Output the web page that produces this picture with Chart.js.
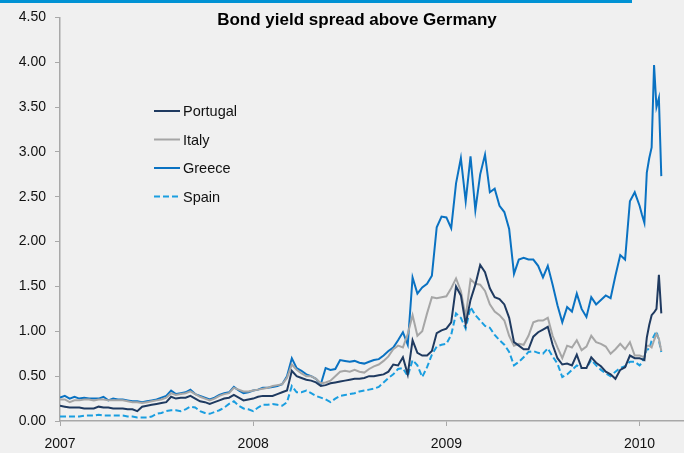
<!DOCTYPE html>
<html>
<head>
<meta charset="utf-8">
<script src="https://cdn.jsdelivr.net/npm/chart.js@4/dist/chart.umd.min.js"></script>
<style>
  html, body { margin: 0; padding: 0; background: #f0f0f0; }
  #wrap { position: relative; width: 684px; height: 453px; }
  #topbar { position: absolute; left: 0; top: 0; width: 632px; height: 3px; background: #0092d4; }
</style>
</head>
<body>
<div id="wrap">
  <canvas id="chart" width="684" height="453"></canvas>
  <div id="topbar"></div>
</div>
<script>
const dates = [
  2007.000, 2007.025, 2007.050, 2007.075, 2007.100, 2007.125, 2007.150, 2007.175, 2007.200, 2007.225,
  2007.250, 2007.275, 2007.300, 2007.325, 2007.350, 2007.375, 2007.400, 2007.425, 2007.450, 2007.475,
  2007.500, 2007.525, 2007.550, 2007.575, 2007.600, 2007.625, 2007.650, 2007.675, 2007.700, 2007.725,
  2007.750, 2007.775, 2007.800, 2007.825, 2007.850, 2007.875, 2007.900, 2007.925, 2007.950, 2007.975,
  2008.000, 2008.025, 2008.050, 2008.075, 2008.100, 2008.125, 2008.150, 2008.175, 2008.200, 2008.225,
  2008.250, 2008.275, 2008.300, 2008.325, 2008.350, 2008.375, 2008.400, 2008.425, 2008.450, 2008.475,
  2008.500, 2008.525, 2008.550, 2008.575, 2008.600, 2008.625, 2008.650, 2008.675, 2008.700, 2008.725,
  2008.750, 2008.775, 2008.800, 2008.825, 2008.850, 2008.875, 2008.900, 2008.925, 2008.950, 2008.975,
  2009.000, 2009.025, 2009.050, 2009.075, 2009.100, 2009.125, 2009.150, 2009.175, 2009.200, 2009.225,
  2009.250, 2009.275, 2009.300, 2009.325, 2009.350, 2009.375, 2009.400, 2009.425, 2009.450, 2009.475,
  2009.500, 2009.525, 2009.550, 2009.575, 2009.600, 2009.625, 2009.650, 2009.675, 2009.700, 2009.725,
  2009.750, 2009.775, 2009.800, 2009.825, 2009.850, 2009.875, 2009.900, 2009.925, 2009.950, 2009.975,
  2010.000, 2010.0125, 2010.025, 2010.0375, 2010.050, 2010.0625, 2010.075, 2010.0875, 2010.100, 2010.1125
];

const portugal = [
  0.17, 0.16, 0.15, 0.15, 0.15, 0.14, 0.14, 0.14, 0.16, 0.15,
  0.15, 0.14, 0.14, 0.14, 0.13, 0.13, 0.11, 0.16, 0.17, 0.18,
  0.19, 0.20, 0.21, 0.27, 0.25, 0.26, 0.26, 0.28, 0.25, 0.22,
  0.21, 0.19, 0.21, 0.23, 0.25, 0.26, 0.29, 0.26, 0.23, 0.24,
  0.25, 0.27, 0.28, 0.28, 0.28, 0.30, 0.32, 0.34, 0.56, 0.50,
  0.48, 0.46, 0.45, 0.43, 0.39, 0.40, 0.42, 0.43, 0.44, 0.45,
  0.46, 0.47, 0.47, 0.48, 0.50, 0.50, 0.51, 0.52, 0.55, 0.63,
  0.62, 0.71, 0.52, 0.90, 0.76, 0.73, 0.73, 0.78, 0.98, 1.01,
  1.03, 1.10, 1.50, 1.40, 1.08, 1.35, 1.52, 1.74, 1.66, 1.48,
  1.38, 1.36, 1.30, 1.15, 0.88, 0.84, 0.80, 0.80, 0.94, 0.99,
  1.02, 1.05, 0.85, 0.70, 0.63, 0.64, 0.62, 0.74, 0.59, 0.59,
  0.71, 0.65, 0.61, 0.55, 0.52, 0.47, 0.57, 0.60, 0.73, 0.70,
  0.70, 0.69, 0.68, 0.93, 1.07, 1.18, 1.21, 1.25, 1.63, 1.20
];

const italy = [
  0.24, 0.24, 0.21, 0.23, 0.23, 0.24, 0.24, 0.23, 0.24, 0.24,
  0.23, 0.23, 0.23, 0.23, 0.22, 0.21, 0.21, 0.20, 0.21, 0.22,
  0.23, 0.24, 0.26, 0.31, 0.29, 0.30, 0.31, 0.33, 0.30, 0.27,
  0.25, 0.23, 0.25, 0.28, 0.30, 0.31, 0.37, 0.35, 0.33, 0.33,
  0.34, 0.35, 0.36, 0.37, 0.39, 0.40, 0.41, 0.48, 0.63, 0.57,
  0.53, 0.50, 0.50, 0.47, 0.42, 0.43, 0.45, 0.50, 0.55, 0.56,
  0.55, 0.57, 0.55, 0.54, 0.58, 0.61, 0.63, 0.67, 0.72, 0.80,
  0.84, 0.82, 0.97, 1.18, 0.95, 1.00, 1.20, 1.38, 1.37, 1.38,
  1.39, 1.48, 1.59, 1.45, 1.16, 1.58, 1.53, 1.52, 1.45, 1.30,
  1.22, 1.18, 1.12, 0.95, 0.84, 0.86, 0.85, 0.95, 1.10, 1.12,
  1.12, 1.15, 0.95, 0.82, 0.70, 0.84, 0.82, 0.90, 0.79, 0.83,
  0.95, 0.88, 0.86, 0.83, 0.75, 0.80, 0.86, 0.80, 0.88, 0.73,
  0.73, 0.72, 0.71, 0.84, 0.84, 0.82, 0.90, 0.97, 0.92, 0.78
];

const greece = [
  0.26, 0.28, 0.25, 0.27, 0.25, 0.26, 0.25, 0.25, 0.25, 0.27,
  0.23, 0.25, 0.24, 0.24, 0.23, 0.22, 0.22, 0.21, 0.22, 0.23,
  0.24, 0.26, 0.28, 0.34, 0.30, 0.31, 0.32, 0.35, 0.30, 0.28,
  0.26, 0.24, 0.26, 0.29, 0.31, 0.32, 0.38, 0.34, 0.31, 0.32,
  0.34, 0.35, 0.37, 0.37, 0.38, 0.39, 0.41, 0.50, 0.70, 0.59,
  0.56, 0.52, 0.50, 0.47, 0.41, 0.59, 0.57, 0.58, 0.68, 0.67,
  0.66, 0.67, 0.65, 0.64, 0.66, 0.68, 0.69, 0.73, 0.78, 0.82,
  0.90, 0.99, 0.85, 1.60, 1.42, 1.49, 1.53, 1.62, 2.16, 2.28,
  2.27, 2.15, 2.65, 2.93, 2.45, 2.95, 2.35, 2.75, 2.97, 2.55,
  2.59, 2.40, 2.33, 2.14, 1.64, 1.80, 1.82, 1.80, 1.80, 1.73,
  1.60, 1.73, 1.52, 1.29, 1.10, 1.27, 1.22, 1.42, 1.25, 1.16,
  1.38, 1.30, 1.35, 1.40, 1.37, 1.62, 1.85, 1.80, 2.45, 2.55,
  2.40, 2.30, 2.21, 2.77, 2.93, 3.05, 3.97, 3.50, 3.60, 2.73
];

const spain = [
  0.05, 0.05, 0.05, 0.05, 0.05, 0.06, 0.06, 0.06, 0.07, 0.06,
  0.06, 0.06, 0.06, 0.06, 0.05, 0.05, 0.04, 0.04, 0.04, 0.05,
  0.08, 0.09, 0.11, 0.12, 0.12, 0.11, 0.13, 0.16, 0.15, 0.11,
  0.09, 0.08, 0.10, 0.12, 0.15, 0.19, 0.22, 0.17, 0.14, 0.13,
  0.11, 0.15, 0.18, 0.18, 0.19, 0.18, 0.17, 0.21, 0.39, 0.32,
  0.32, 0.34, 0.31, 0.28, 0.26, 0.24, 0.21, 0.25, 0.28, 0.29,
  0.30, 0.31, 0.33, 0.34, 0.35, 0.36, 0.38, 0.43, 0.48, 0.52,
  0.58, 0.59, 0.50, 0.68, 0.62, 0.49, 0.60, 0.74, 0.83, 0.85,
  0.86, 0.96, 1.20, 1.15, 1.03, 1.27, 1.18, 1.12, 1.06, 1.04,
  0.96, 0.90, 0.85, 0.77, 0.62, 0.66, 0.71, 0.77, 0.78, 0.76,
  0.75, 0.81, 0.72, 0.64, 0.49, 0.52, 0.57, 0.62, 0.59, 0.59,
  0.68, 0.62, 0.57, 0.53, 0.50, 0.55, 0.59, 0.61, 0.66, 0.66,
  0.62, 0.65, 0.72, 0.80, 0.80, 0.90, 0.95, 1.00, 0.90, 0.77
];

const yearTicks = [2007, 2008, 2009, 2010];
const title = 'Bond yield spread above Germany';

const series = [
  { label: 'Portugal', values: portugal, color: '#1f3a60', dash: [] },
  { label: 'Italy', values: italy, color: '#a6a6a6', dash: [] },
  { label: 'Greece', values: greece, color: '#0a72c2', dash: [] },
  { label: 'Spain', values: spain, color: '#1a9ee0', dash: [6, 3] },
];

const FONT = '"Liberation Sans", Arial, sans-serif';

// title + in-plot legend, drawn like the original
const overlay = {
  id: 'overlay',
  afterDraw(chart) {
    const ctx = chart.ctx;
    ctx.save();
    ctx.fillStyle = '#000';
    ctx.font = 'bold 17px ' + FONT;
    ctx.textAlign = 'center';
    ctx.textBaseline = 'middle';
    ctx.fillText(title, 357, 20);

    ctx.font = '14.5px ' + FONT;
    ctx.textAlign = 'left';
    series.forEach((s, i) => {
      const y = 111 + i * 28.5;
      ctx.strokeStyle = s.color;
      ctx.lineWidth = 2;
      ctx.setLineDash(s.dash);
      ctx.beginPath();
      ctx.moveTo(154, y);
      ctx.lineTo(180, y);
      ctx.stroke();
      ctx.setLineDash([]);
      ctx.fillStyle = '#111';
      ctx.fillText(s.label, 183, y + 1);
    });
    ctx.restore();
  }
};

const ctx = document.getElementById('chart').getContext('2d');

new Chart(ctx, {
  type: 'line',
  data: {
    labels: dates,
    datasets: series.map(s => ({
      label: s.label,
      data: s.values.map((v, i) => ({ x: dates[i], y: v })),
      borderColor: s.color,
      borderWidth: 2,
      borderDash: s.dash,
      pointRadius: 0,
      tension: 0,
      fill: false,
    })),
  },
  options: {
    responsive: false,
    animation: false,
    layout: { padding: { top: 16, right: 0, left: 0, bottom: 0 } },
    plugins: {
      legend: { display: false },
      tooltip: { enabled: false },
      title: { display: false },
    },
    scales: {
      x: {
        type: 'linear',
        min: 2007,
        max: 2010.23,
        afterFit: (scale) => { scale.height = 32; },
        afterBuildTicks: (scale) => { scale.ticks = yearTicks.map(v => ({ value: v })); },
        grid: { display: true, drawOnChartArea: false, drawTicks: true, tickLength: 5, color: '#a8a8a8' },
        border: { display: true, color: '#a8a8a8', width: 1.5 },
        ticks: {
          color: '#111',
          padding: 10,
          font: { family: FONT, size: 14 },
          maxRotation: 0,
          callback: (v) => String(v),
        },
      },
      y: {
        min: 0,
        max: 4.5,
        afterFit: (scale) => { scale.width = 60; },
        grid: { display: true, drawOnChartArea: false, drawTicks: true, tickLength: 5, color: '#a8a8a8' },
        border: { display: true, color: '#a8a8a8', width: 1.5 },
        ticks: {
          stepSize: 0.5,
          color: '#111',
          padding: 9,
          font: { family: FONT, size: 14 },
          callback: (v) => v.toFixed(2),
        },
      },
    },
  },
  plugins: [overlay],
});
</script>
</body>
</html>
